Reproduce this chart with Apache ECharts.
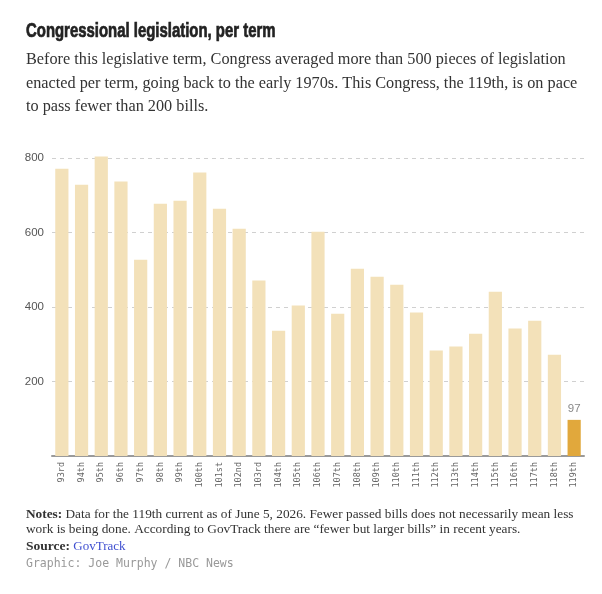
<!DOCTYPE html>
<html><head><meta charset="utf-8">
<script src="https://cdn.jsdelivr.net/npm/echarts@6/dist/echarts.min.js"></script>
<style>html,body{margin:0;padding:0;background:#fff}#c{width:602px;height:594px}</style>
</head><body><div id="c"></div>
<script>
const congresses = ["93rd","94th","95th","96th","97th","98th","99th","100th","101st","102nd","103rd","104th","105th","106th","107th","108th","109th","110th","111th","112th","113th","114th","115th","116th","117th","118th","119th"];
const billsEnacted = [771,728,804,737,527,677,685,761,664,610,471,336,404,602,382,503,481,460,385,283,294,328,441,342,363,272,97];
const yTicks = [0,200,400,600,800];
const currentCongress = "119th";

const serif = '"Liberation Serif", "DejaVu Serif", serif';
const chart = echarts.init(document.getElementById('c'), null, {renderer:'canvas'});
chart.setOption({
  backgroundColor:'#fff',
  animation:false,
  grid:{left:52,right:18,top:158,bottom:138},
  xAxis:{type:'category',data:congresses,
    axisLine:{lineStyle:{color:'#9a9a9a',width:2}},
    axisTick:{show:false},
    axisLabel:{rotate:90,interval:0,margin:6,fontFamily:'"DejaVu Sans Mono", monospace',fontSize:8.5,color:'#666'}},
  yAxis:{type:'value',min:0,max:800,interval:200,
    axisLine:{show:false},axisTick:{show:false},
    splitLine:{lineStyle:{color:'#d0d0d0',type:[4,4],width:1}},
    axisLabel:{margin:8,fontFamily:'"Liberation Sans", Arial, sans-serif',fontSize:11.5,color:'#555',
      formatter:v=> yTicks.includes(v)&&v!==0 ? String(v) : ''}},
  series:[{type:'bar',clip:false,barCategoryGap:'33%',
    data:billsEnacted.map((v,i)=>({value:v,
      itemStyle:{color: congresses[i]===currentCongress ? '#e1a83c' : '#f3e1b9'},
      label:{show: congresses[i]===currentCongress, position:'top', distance:5, color:'#888', fontSize:11.5, fontFamily:'"Liberation Sans", Arial, sans-serif'}})),
  }],
  graphic:[
    {type:'text',x:26,y:32,scaleX:0.765,style:{text:'Congressional legislation, per term',font:'bold 19.5px "Liberation Sans", Arial, sans-serif',fill:'#222',stroke:'#222',lineWidth:0.7,verticalAlign:'middle'}},
    {type:'text',x:26,y:60,style:{text:'Before this legislative term, Congress averaged more than 500 pieces of legislation',font:'16.25px '+serif,fill:'#333',verticalAlign:'middle'}},
    {type:'text',x:26,y:84,style:{text:'enacted per term, going back to the early 1970s. This Congress, the 119th, is on pace',font:'16.25px '+serif,fill:'#333',verticalAlign:'middle'}},
    {type:'text',x:26,y:107,style:{text:'to pass fewer than 200 bills.',font:'16.25px '+serif,fill:'#333',verticalAlign:'middle'}},
    {type:'text',x:26,y:515,style:{text:'{b|Notes:} {r|Data for the 119th current as of June 5, 2026. Fewer passed bills does not necessarily mean less}',verticalAlign:'middle',
      rich:{b:{font:'bold 13.3px '+serif,fill:'#333'},r:{font:'13.3px '+serif,fill:'#333'}}}},
    {type:'text',x:26,y:530,style:{text:'work is being done. According to GovTrack there are \u201cfewer but larger bills\u201d in recent years.',font:'13.3px '+serif,fill:'#333',verticalAlign:'middle'}},
    {type:'text',x:26,y:547,style:{text:'{b|Source:} {l|GovTrack}',verticalAlign:'middle',
      rich:{b:{font:'bold 13.5px '+serif,fill:'#333'},l:{font:'13px '+serif,fill:'#3f4fd0'}}}},
    {type:'text',x:26,y:564,style:{text:'Graphic: Joe Murphy / NBC News',font:'11.5px "DejaVu Sans Mono", monospace',fill:'#999',verticalAlign:'middle'}}
  ]
});
</script></body></html>
